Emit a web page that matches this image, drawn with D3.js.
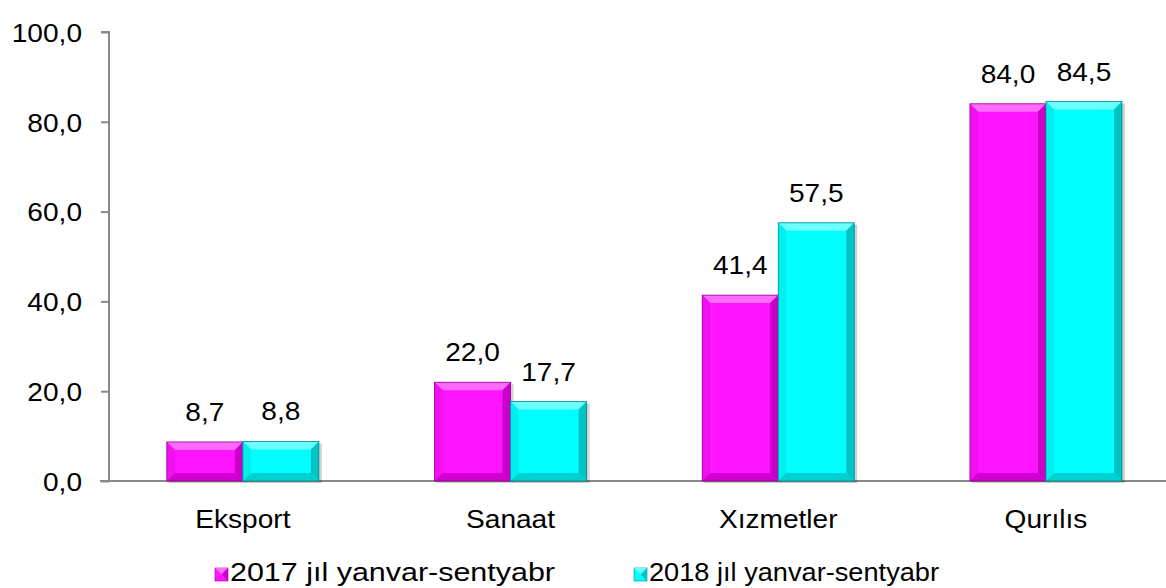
<!DOCTYPE html>
<html><head><meta charset="utf-8">
<script src="https://cdn.jsdelivr.net/npm/d3@7"></script>
<style>body{margin:0;background:#fff;} text{font-family:"Liberation Sans",Arial,sans-serif;fill:#000;}</style>
</head><body>
<svg id="c" width="1166" height="588"></svg>
<script>
const categories = ["Eksport","Sanaat","Xızmetler","Qurılıs"];
const seriesNames = ["2017 jıl yanvar-sentyabr","2018 jıl yanvar-sentyabr"];
const values2017 = [8.7,22.0,41.4,84.0];
const values2018 = [8.8,17.7,57.5,84.5];
const yTicks = [0,20,40,60,80,100];

const colors = [
  {base:"#ff14ff", top:"#ff6bff", left:"#f010f0", right:"#c800c8", bottom:"#d000d0", edge:"#990099"},
  {base:"#00ffff", top:"#6bffff", left:"#00f0f0", right:"#00c4c4", bottom:"#00d0d0", edge:"#008c8c"}
];
const FS = 26;

const svg = d3.select("#c");
const x0 = d3.scaleBand().domain(categories).range([109, 109 + 4*267.7]).paddingInner(0).paddingOuter(0);
const y = d3.scaleLinear().domain([0,100]).range([481,32]);
const bw = 76;
const x1 = d3.scaleBand().domain([0,1]).range([0, 2*bw]);
const fmt = d => d3.format(".1f")(d).replace(".", ",");

// y axis
const yAxis = d3.axisLeft(y).tickValues(yTicks).tickSize(8).tickPadding(19).tickFormat(fmt);
const gy = svg.append("g").attr("transform","translate(109,0)").call(yAxis);
gy.select(".domain").attr("stroke","#888").attr("stroke-width",2).attr("d","M-8,32H0V481");
gy.selectAll(".tick line").attr("stroke","#888").attr("stroke-width",2);
gy.selectAll(".tick text").style("font-size",FS+"px").style("font-family","Liberation Sans, Arial, sans-serif")
  .attr("fill","#000").attr("dy","0.36em").attr("transform","scale(1.08,1)")
  .attr("x", function(){ return -27/1.08; });

// x axis line
svg.append("line").attr("x1",100).attr("x2",1166).attr("y1",481).attr("y2",481).attr("stroke","#888").attr("stroke-width",2);

const data = categories.map((c,i)=>({cat:c, vals:[values2017[i], values2018[i]]}));
const bev = 8;

function drawBar(g, x, w, yt, yb, col){
  const h = yb - yt;
  const b = Math.min(bev, h/2, w/2);
  g.append("rect").attr("x",x+2).attr("y",yt+2).attr("width",w+1).attr("height",h).attr("fill","#000").attr("opacity",0.18);
  g.append("rect").attr("x",x).attr("y",yt).attr("width",w).attr("height",h).attr("fill",col.base);
  g.append("polygon").attr("points",`${x},${yt} ${x+w},${yt} ${x+w-b},${yt+b} ${x+b},${yt+b}`).attr("fill",col.top);
  g.append("polygon").attr("points",`${x},${yt} ${x+b},${yt+b} ${x+b},${yb-b} ${x},${yb}`).attr("fill",col.left);
  g.append("polygon").attr("points",`${x+w},${yt} ${x+w},${yb} ${x+w-b},${yb-b} ${x+w-b},${yt+b}`).attr("fill",col.right);
  g.append("polygon").attr("points",`${x},${yb} ${x+b},${yb-b} ${x+w-b},${yb-b} ${x+w},${yb}`).attr("fill",col.bottom);
  g.append("rect").attr("x",x).attr("y",yt).attr("width",w).attr("height",h).attr("fill","none").attr("stroke",col.edge).attr("stroke-width",0.8);
}

function stretchedText(sel, x, yv, txt, anchor, fs){
  return sel.append("text").attr("transform",`translate(${x},${yv}) scale(1.08,1)`)
    .attr("text-anchor",anchor).style("font-size",fs+"px").text(txt);
}

const groups = svg.append("g");
data.forEach(d => {
  const cx = x0(d.cat) + x0.bandwidth()/2;
  const gx = cx - bw;
  d.vals.forEach((v,si) => {
    const bx = gx + x1(si);
    drawBar(groups, bx, bw, y(v), y(0), colors[si]);
    stretchedText(svg, bx + bw/2, y(v) - 21, fmt(v), "middle", FS);
  });
  stretchedText(svg, cx, 528, d.cat, "middle", FS);
});

// legend
const legX = [215, 634];
const legW = [325, 290];
seriesNames.forEach((n,i)=>{
  const lg = svg.append("g");
  const col = colors[i];
  const sx = legX[i], sy = 568, s = 13;
  lg.append("rect").attr("x",sx).attr("y",sy).attr("width",s).attr("height",s).attr("fill",col.base).attr("stroke",col.edge).attr("stroke-width",0.6);
  lg.append("polygon").attr("points",`${sx},${sy} ${sx+s},${sy} ${sx+s/2},${sy+s/2}`).attr("fill",col.top);
  lg.append("polygon").attr("points",`${sx+s},${sy} ${sx+s},${sy+s} ${sx+s/2},${sy+s/2}`).attr("fill",col.right);
  lg.append("text").attr("x",sx+s+2).attr("y",581).style("font-size","26px")
    .attr("textLength", legW[i]).attr("lengthAdjust","spacingAndGlyphs").text(n);
});
</script>
</body></html>
